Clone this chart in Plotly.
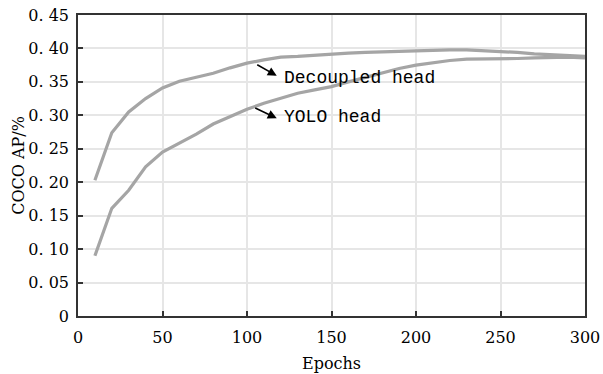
import plotly.graph_objects as go

epochs = [10, 20, 30, 40, 50, 60, 70, 80, 90, 100, 110, 120, 130, 140, 150,
          160, 170, 180, 190, 200, 210, 220, 230, 240, 250, 260, 270, 280, 290, 300]
decoupled_ap = [0.203, 0.274, 0.305, 0.325, 0.341, 0.351, 0.357, 0.363, 0.371, 0.378,
                0.383, 0.387, 0.388, 0.390, 0.392, 0.393, 0.394, 0.395, 0.396, 0.397,
                0.397, 0.398, 0.398, 0.397, 0.395, 0.394, 0.392, 0.391, 0.389, 0.388]
yolo_ap = [0.090, 0.161, 0.188, 0.223, 0.245, 0.258, 0.272, 0.287, 0.298, 0.309,
           0.318, 0.326, 0.333, 0.338, 0.343, 0.350, 0.357, 0.364, 0.370, 0.375,
           0.379, 0.382, 0.384, 0.384, 0.385, 0.385, 0.386, 0.387, 0.387, 0.386]
y_tickvals = [0, 0.05, 0.10, 0.15, 0.20, 0.25, 0.30, 0.35, 0.40, 0.45]
y_ticktext = ["0", "0. 05", "0. 10", "0. 15", "0. 20", "0. 25", "0. 30", "0. 35", "0. 40", "0. 45"]
x_tickvals = [0, 50, 100, 150, 200, 250, 300]

line_color = "rgb(165,165,165)"
serif = "DejaVu Serif"
mono = "Liberation Mono"

fig = go.Figure()
fig.add_trace(go.Scatter(x=epochs, y=decoupled_ap, mode="lines",
                         line=dict(color=line_color, width=3.2), name="Decoupled head"))
fig.add_trace(go.Scatter(x=epochs, y=yolo_ap, mode="lines",
                         line=dict(color=line_color, width=3.2), name="YOLO head"))

# arrows
fig.add_annotation(x=117.6, y=0.359, ax=-21, ay=-12, text="", showarrow=True,
                   arrowhead=2, arrowsize=1.2, arrowwidth=1.5, arrowcolor="black")
fig.add_annotation(x=117.6, y=0.2956, ax=-23, ay=-11, text="", showarrow=True,
                   arrowhead=2, arrowsize=1.2, arrowwidth=1.5, arrowcolor="black")
# labels
fig.add_annotation(x=120.7, y=0.3558, text="Decoupled head", showarrow=False,
                   xanchor="left", yanchor="middle",
                   font=dict(family=mono, size=18, color="black"))
fig.add_annotation(x=120.7, y=0.2975, text="YOLO head", showarrow=False,
                   xanchor="left", yanchor="middle",
                   font=dict(family=mono, size=18, color="black"))

fig.update_layout(
    width=603, height=374,
    margin=dict(l=78, r=18, t=15, b=58, autoexpand=False),
    paper_bgcolor="white", plot_bgcolor="white",
    showlegend=False,
    xaxis=dict(
        range=[0, 300], tickvals=x_tickvals, automargin=False,
        showline=True, mirror=True, linecolor="#333333", linewidth=1.5,
        ticks="inside", ticklen=5, tickcolor="#333333", tickwidth=1.5,
        showgrid=True, gridcolor="rgb(230,230,230)", gridwidth=2,
        zeroline=False,
        tickfont=dict(family=serif, size=16, color="black"),
        ticklabelstandoff=6,
        title=dict(text="Epochs", font=dict(family=serif, size=16, color="black"), standoff=12),
    ),
    yaxis=dict(
        range=[0, 0.45], tickvals=y_tickvals, ticktext=y_ticktext, automargin=False,
        showline=True, mirror=True, linecolor="#333333", linewidth=1.5,
        ticks="inside", ticklen=5, tickcolor="#333333", tickwidth=1.5,
        showgrid=True, gridcolor="rgb(230,230,230)", gridwidth=2,
        zeroline=False,
        tickfont=dict(family=serif, size=16, color="black"),
        ticklabelstandoff=4,
        title=dict(text="COCO AP/%", font=dict(family=serif, size=16, color="black"), standoff=0),
    ),
)

fig.write_html("out.html", config={"displayModeBar": False},
               post_script="document.body.style.margin='0';document.body.style.overflow='hidden';")
